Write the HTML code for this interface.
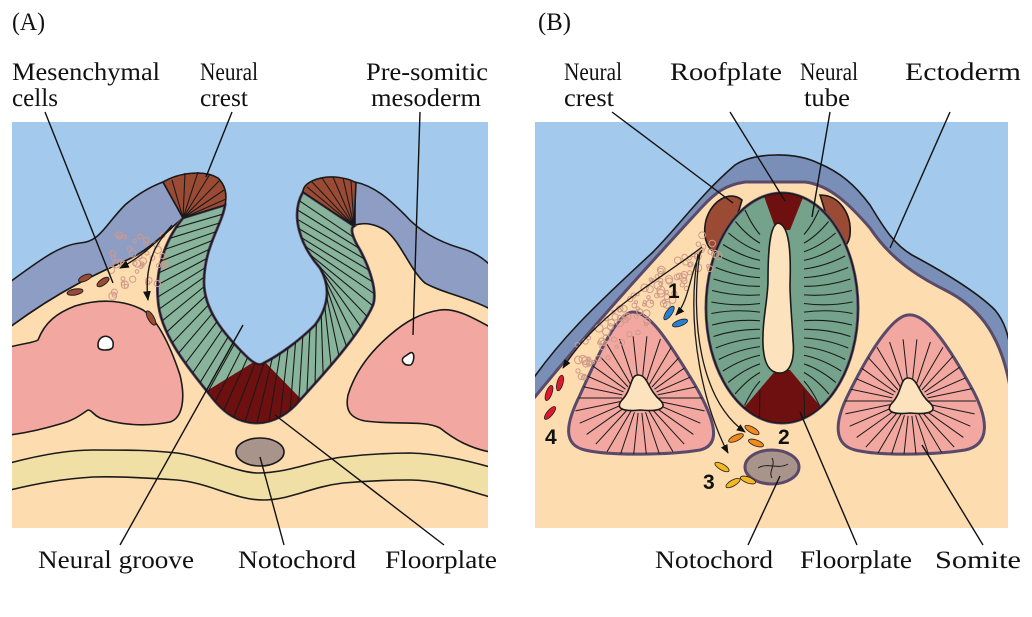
<!DOCTYPE html>
<html><head><meta charset="utf-8"><style>
html,body{margin:0;padding:0;background:#fff}
svg{display:block}
text{font-family:"Liberation Serif",serif;font-size:25px;fill:#111}
.n{font-family:"Liberation Sans",sans-serif;font-weight:bold;font-size:21px}
</style></head><body>
<svg id="s" width="1032" height="617" viewBox="0 0 1032 617" xmlns="http://www.w3.org/2000/svg">
<defs>
<clipPath id="ca"><rect x="12" y="122" width="476" height="406"/></clipPath>
<clipPath id="cb"><rect x="535" y="122" width="473" height="406"/></clipPath>
<clipPath id="band"><path id="bandp" d=""/></clipPath>
<clipPath id="tube"><ellipse cx="782" cy="308" rx="76" ry="115"/></clipPath>
<clipPath id="sl"><path d="M632,312 C648,311 665,335 695,385 C715,420 722,445 700,450 C670,455 610,456 585,450 C563,445 565,425 580,395 C600,350 618,313 632,312 Z"/></clipPath>
<clipPath id="sr"><path d="M908,315 C925,313 945,340 970,385 C990,420 990,445 965,450 C935,455 880,456 855,450 C835,445 833,425 848,395 C870,350 893,316 908,315 Z"/></clipPath>
<marker id="ar" viewBox="0 0 10 10" refX="9" refY="5" markerWidth="7" markerHeight="7" orient="auto"><path d="M0,1 L10,5 L0,9 Z" fill="#111"/></marker>
</defs>

<!-- Panel A -->
<g clip-path="url(#ca)" stroke="#1a1a1a" stroke-width="1.6">
<rect x="12" y="122" width="476" height="406" fill="#a3c9ec" stroke="none"/>
<path fill="#fddcaf" d="M10,327 C60,290 100,272 127,260 C150,250 170,228 183,218 C165,240 155,270 158,300 C160,335 190,370 210,395 C225,415 240,423 257,423 C275,423 290,412 300,400 C320,378 360,335 373,305 C378,290 368,265 360,250 C352,237 350,228 355,225 C365,222 375,224 385,230 C400,240 410,270 425,283 C440,292 470,298 490,308 L490,530 L10,530 Z"/>
<path fill="#8e9dc4" d="M10,282 C40,260 60,245 80,243 C100,242 105,225 125,205 C140,192 155,185 163,182 L183,218 C170,228 150,250 127,260 C100,272 60,290 10,327 Z"/>
<path fill="#8e9dc4" d="M355,182 C375,186 390,200 405,215 C420,232 440,242 460,248 C475,252 485,260 490,265 L490,309 C470,298 440,292 425,283 C410,270 400,240 385,230 C375,224 365,222 355,225 Z"/>
<path fill="#f2a8a0" d="M10,347 C25,343 33,343 38,340 C45,322 57,313 75,306 C95,300 120,298 143,310 C158,320 170,345 180,375 C186,400 182,418 170,422 C145,427 120,425 100,418 C92,414 92,410 88,410 C80,415 75,420 60,424 C40,430 25,433 10,435 Z"/>
<path fill="#fff" d="M98,345 C98,335 110,333 113,342 C114,348 112,350 105,350 C99,350 98,348 98,345 Z"/>
<path fill="#f2a8a0" d="M490,327 C470,316 455,308 440,310 C420,313 405,322 390,335 C370,352 355,372 348,395 C345,410 350,418 365,421 C395,425 425,420 440,428 C455,440 470,448 490,452 Z"/>
<path fill="#fff" d="M410,353 C416,350 414,365 410,365 C404,366 400,360 404,357 Z"/>
<path fill="#f1e0a6" d="M10,463 C40,455 70,450 93,450 C130,450 150,450 177,453 C210,458 235,472 257,473 C290,473 315,460 343,457 C370,454 390,453 410,453 C440,454 465,460 490,467 L490,497 C465,490 440,480 410,480 C385,480 365,481 343,483 C310,487 290,500 263,500 C235,500 210,483 177,480 C150,478 120,476 93,477 C60,479 35,484 10,490 Z"/>
<ellipse cx="260" cy="452" rx="24" ry="14" fill="#a8948b"/>
<path id="bandfill" fill="#88b49c" stroke="#5a4a6a" stroke-width="3" d=""/>
<g clip-path="url(#band)" stroke="none">
<path fill="#6e1010" d="M205,392 L257,360 L263,360 L300,398 L300,440 L200,440 Z"/>
</g>
<g id="hatchA" clip-path="url(#band)" stroke="#1a1a1a" stroke-width="1.1"></g>
<path id="bandline" fill="none" stroke="#1a1a1a" stroke-width="1.4" d=""/>
<path fill="#9b4b34" d="M183,218 L163,182 C180,172 205,170 218,178 C226,186 227,196 225,205 Z"/>
<path d="M183,218 L172,180 M183,218 L185,173 M183,218 L198,172 M183,218 L210,174 M183,218 L219,181 M183,218 L224,190 M183,218 L226,199" stroke-width="1.1"/>
<path fill="#9b4b34" d="M303,192 C303,183 318,176 335,177 C345,178 352,180 356,183 L354,226 Z"/>
<path d="M354,226 L312,182 M354,226 L322,178 M354,226 L333,177 M354,226 L343,178 M354,226 L351,181 M354,226 L307,187" stroke-width="1.1"/>
<g fill="none" stroke="#cf9a8a" stroke-width="1" id="mesA"></g>
<g fill="#9b4b34" stroke="#222" stroke-width="1">
<ellipse cx="85" cy="278" rx="7" ry="3" transform="rotate(-25 85 278)"/>
<ellipse cx="103" cy="282" rx="7" ry="3" transform="rotate(-35 103 282)"/>
<ellipse cx="75" cy="292" rx="8" ry="3" transform="rotate(-10 75 292)"/>
<ellipse cx="151" cy="318" rx="8" ry="3" transform="rotate(60 151 318)"/>
</g>
<path d="M172,225 C160,240 140,258 120,268" fill="none" stroke-width="1.4" marker-end="url(#ar)"/>
<path d="M172,228 C150,245 145,275 148,300" fill="none" stroke-width="1.4" marker-end="url(#ar)"/>
</g>

<!-- Panel B -->
<g clip-path="url(#cb)" stroke="#1a1a1a" stroke-width="1.6">
<rect x="535" y="122" width="473" height="406" fill="#a3c9ec" stroke="none"/>
<path fill="#7a8fb8" d="M530,383 C560,340 590,310 652,253 C680,225 700,195 735,165 C755,152 795,152 818,163 C840,172 855,185 870,205 C885,230 895,245 912,255 C940,270 975,290 995,310 C1005,322 1008,335 1010,347 L1010,530 L530,530 Z"/>
<path fill="#fddcaf" stroke="#5a4a6a" stroke-width="3" d="M530,403 C565,360 600,318 702,207 C715,193 725,185 745,182 L805,182 C830,185 850,205 870,228 C890,258 915,275 945,290 C975,305 1000,330 1010,387 L1010,530 L530,530 Z"/>
<path fill="#9b4b34" d="M742,200 C730,190 712,200 706,220 C702,238 708,252 718,252 C728,240 735,225 742,200 Z"/>
<path fill="#9b4b34" d="M820,195 C840,195 852,215 850,235 C848,248 840,250 835,246 C830,230 825,210 820,195 Z"/>
<ellipse cx="782" cy="308" rx="76" ry="115" fill="#74a28b" stroke="#5a4a6a" stroke-width="3"/>
<g clip-path="url(#tube)" stroke="none">
<path fill="#6e1010" d="M760,185 L808,185 L790,230 L776,230 Z"/>
<path fill="#6e1010" d="M776,370 L790,370 L840,430 L725,430 Z"/>
</g>
<g id="hatchT" clip-path="url(#tube)" stroke="#1a1a1a" stroke-width="1.1" fill="none"></g>
<ellipse cx="782" cy="308" rx="76" ry="115" fill="none" stroke-width="1.4"/>
<path fill="#fde3bd" d="M778,223 C770,225 768,250 768,280 C768,300 762,320 763,345 C764,365 770,373 780,373 C790,373 795,360 793,340 C792,320 790,300 790,285 C791,255 790,225 778,223 Z"/>
<path fill="#f2a8a0" stroke="#5a4a6a" stroke-width="3" d="M632,312 C648,311 665,335 695,385 C715,420 722,445 700,450 C670,455 610,456 585,450 C563,445 565,425 580,395 C600,350 618,313 632,312 Z"/>
<g id="hatchSL" clip-path="url(#sl)" stroke="#1a1a1a" stroke-width="1"></g>
<path fill="#fde3bd" d="M638,375 C648,375 648,390 660,400 C668,408 660,412 640,410 C622,412 615,408 622,400 C632,390 630,375 638,375 Z"/>
<path fill="#f2a8a0" stroke="#5a4a6a" stroke-width="3" d="M908,315 C925,313 945,340 970,385 C990,420 990,445 965,450 C935,455 880,456 855,450 C835,445 833,425 848,395 C870,350 893,316 908,315 Z"/>
<g id="hatchSR" clip-path="url(#sr)" stroke="#1a1a1a" stroke-width="1"></g>
<path fill="#fde3bd" d="M908,378 C918,378 918,393 930,403 C938,411 930,415 910,413 C892,415 885,411 892,403 C902,393 900,378 908,378 Z"/>
<ellipse cx="772" cy="467" rx="27" ry="17" fill="#a8948b" stroke="#5a4a6a" stroke-width="3"/>
<path d="M758,468 C768,462 778,470 788,464 M772,458 C776,465 768,472 772,478" fill="none" stroke-width="1"/>
<g fill="none" stroke="#cf9a8a" stroke-width="1" id="mesB"></g>
<g stroke="#222" stroke-width="0.8">
<ellipse cx="669" cy="313" rx="8" ry="3" transform="rotate(-55 669 313)" fill="#2a7fd0"/>
<ellipse cx="680" cy="323" rx="8" ry="3" transform="rotate(-20 680 323)" fill="#2a7fd0"/>
<ellipse cx="752" cy="430" rx="8" ry="3" transform="rotate(30 752 430)" fill="#f08a1c"/>
<ellipse cx="736" cy="438" rx="8" ry="3" transform="rotate(-25 736 438)" fill="#f08a1c"/>
<ellipse cx="756" cy="443" rx="8" ry="3" transform="rotate(20 756 443)" fill="#f08a1c"/>
<ellipse cx="722" cy="467" rx="8" ry="3" transform="rotate(30 722 467)" fill="#f5b820"/>
<ellipse cx="733" cy="483" rx="8" ry="3" transform="rotate(-30 733 483)" fill="#f5b820"/>
<ellipse cx="748" cy="480" rx="8" ry="3" transform="rotate(20 748 480)" fill="#f5b820"/>
<ellipse cx="549" cy="393" rx="8" ry="3" transform="rotate(-70 549 393)" fill="#e0182e"/>
<ellipse cx="560" cy="383" rx="8" ry="3" transform="rotate(-75 560 383)" fill="#e0182e"/>
<ellipse cx="550" cy="413" rx="8" ry="3" transform="rotate(-50 550 413)" fill="#e0182e"/>
</g>
<g fill="none" stroke-width="1.3">
<path d="M702,247 C660,280 600,310 563,368" marker-end="url(#ar)"/>
<path d="M702,250 C690,270 690,300 676,315" marker-end="url(#ar)"/>
<path d="M700,252 C690,320 700,400 745,432" marker-end="url(#ar)"/>
<path d="M698,254 C685,330 705,410 728,453" marker-end="url(#ar)"/>
</g>
</g>
<text class="n" x="668" y="298">1</text>
<text class="n" x="778" y="444">2</text>
<text class="n" x="703" y="489">3</text>
<text class="n" x="545" y="444">4</text>

<g stroke="#111" stroke-width="1.4">
<line x1="45" y1="112" x2="113" y2="283"/>
<line x1="232" y1="112" x2="206" y2="177"/>
<line x1="420" y1="112" x2="413" y2="335"/>
<line x1="120" y1="545" x2="243" y2="325"/>
<line x1="284" y1="545" x2="260" y2="457"/>
<line x1="444" y1="545" x2="275" y2="415"/>
<line x1="612" y1="112" x2="733" y2="203"/>
<line x1="730" y1="112" x2="785" y2="201"/>
<line x1="830" y1="112" x2="812" y2="217"/>
<line x1="950" y1="112" x2="890" y2="248"/>
<line x1="748" y1="545" x2="780" y2="476"/>
<line x1="857" y1="545" x2="800" y2="412"/>
<line x1="983" y1="545" x2="922" y2="445"/>
</g>

<text x="12" y="30" textLength="33" lengthAdjust="spacingAndGlyphs">(A)</text>
<text x="538" y="30" textLength="33" lengthAdjust="spacingAndGlyphs">(B)</text>
<text x="12" y="80" textLength="148" lengthAdjust="spacingAndGlyphs">Mesenchymal</text>
<text x="12" y="106" textLength="46" lengthAdjust="spacingAndGlyphs">cells</text>
<text x="200" y="80" textLength="58" lengthAdjust="spacingAndGlyphs">Neural</text>
<text x="200" y="106" textLength="48" lengthAdjust="spacingAndGlyphs">crest</text>
<text x="366" y="80" textLength="122" lengthAdjust="spacingAndGlyphs">Pre-somitic</text>
<text x="371" y="106" textLength="110" lengthAdjust="spacingAndGlyphs">mesoderm</text>
<text x="564" y="80" textLength="58" lengthAdjust="spacingAndGlyphs">Neural</text>
<text x="564" y="106" textLength="50" lengthAdjust="spacingAndGlyphs">crest</text>
<text x="670" y="80" textLength="112" lengthAdjust="spacingAndGlyphs">Roofplate</text>
<text x="800" y="80" textLength="58" lengthAdjust="spacingAndGlyphs">Neural</text>
<text x="804" y="106" textLength="46" lengthAdjust="spacingAndGlyphs">tube</text>
<text x="905" y="80" textLength="116" lengthAdjust="spacingAndGlyphs">Ectoderm</text>
<text x="38" y="568" textLength="156" lengthAdjust="spacingAndGlyphs">Neural groove</text>
<text x="238" y="568" textLength="118" lengthAdjust="spacingAndGlyphs">Notochord</text>
<text x="385" y="568" textLength="112" lengthAdjust="spacingAndGlyphs">Floorplate</text>
<text x="655" y="568" textLength="118" lengthAdjust="spacingAndGlyphs">Notochord</text>
<text x="800" y="568" textLength="112" lengthAdjust="spacingAndGlyphs">Floorplate</text>
<text x="935" y="568" textLength="86" lengthAdjust="spacingAndGlyphs">Somite</text>
</svg>
<script>
(function(){
var NS="http://www.w3.org/2000/svg";
var outer="M183,218 C165,240 155,270 158,300 C160,335 190,370 210,395 C225,415 240,423 257,423 C275,423 290,412 300,400 C320,378 360,335 373,305 C378,290 368,265 360,250 C352,237 350,228 354,226";
var inner="M225,205 C222,225 205,245 204,280 C203,310 225,335 245,355 C252,362 258,366 262,364 C280,355 300,340 315,325 C330,305 330,285 320,268 C300,245 290,215 303,192";
var innerRev="L303,192 C290,215 300,245 320,268 C330,285 330,305 315,325 C300,340 280,355 262,364 C258,366 252,362 245,355 C225,335 203,310 204,280 C205,245 222,225 225,205 Z";
var full=outer+" "+innerRev;
document.getElementById("bandp").setAttribute("d",full);
document.getElementById("bandfill").setAttribute("d",full);
document.getElementById("bandline").setAttribute("d",full);
function mk(tag,a,p){var e=document.createElementNS(NS,tag);for(var k in a)e.setAttribute(k,a[k]);p.appendChild(e);return e;}
var tmp=document.getElementById("s");
var po=mk("path",{d:outer,fill:"none",stroke:"none"},tmp),pi=mk("path",{d:inner,fill:"none",stroke:"none"},tmp);
var Lo=po.getTotalLength(),Li=pi.getTotalLength(),h=document.getElementById("hatchA"),N=42;
for(var i=1;i<N;i++){var a=po.getPointAtLength(Lo*i/N),b=pi.getPointAtLength(Li*i/N);
mk("line",{x1:a.x,y1:a.y,x2:b.x,y2:b.y},h);}
// tube: lines radiating from lumen axis, mostly horizontal
var t=document.getElementById("hatchT");
for(var side=-1;side<=1;side+=2){
for(var k=0;k<19;k++){var y=210+k*11.5;
var dy=(y-308)/115;if(Math.abs(dy)>=0.98)continue;
var ex=782+side*76*Math.sqrt(1-dy*dy)*0.93;
var iy=308+(y-308)*0.75;var ix=782+side*22;
var ox=ex, oy=y;
var mx=(ox+ix)/2, my=(oy+iy)/2+ (y<308?4:-4);
mk("path",{d:"M"+ox+","+oy+" Q"+mx+","+my+" "+ix+","+iy},t);}}
function rad(id,cx,cy){var g=document.getElementById(id);
for(var i=0;i<30;i++){var th=i*2*Math.PI/30;
mk("line",{x1:cx+18*Math.cos(th),y1:cy+15*Math.sin(th),x2:cx+66*Math.cos(th),y2:cy+62*Math.sin(th)},g);}}
rad("hatchSL",640,398);rad("hatchSR",910,401);
function mes(id,pts){var g=document.getElementById(id);pts.forEach(function(p){mk("circle",{cx:p[0],cy:p[1],r:p[2]},g);});}
var A=[],B=[];var seed=7;function r(){seed=(seed*9301+49297)%233280;return seed/233280;}
for(var i=0;i<45;i++){var x=110+r()*55,y=235+r()*65;if(y>300-(x-110)*0.2||x>170-(y-230)*0.1)continue;A.push([x,y,1.5+r()*2.5]);}
mes("mesA",A);
for(var i=0;i<110;i++){var u=r(),v=r();var x=705-u*140,y=245+u*125+ (v-0.5)*30;if(y<235)continue;B.push([x+ (v*16),y,1.5+r()*2.5]);}
mes("mesB",B);
})();
</script>
</body></html>
